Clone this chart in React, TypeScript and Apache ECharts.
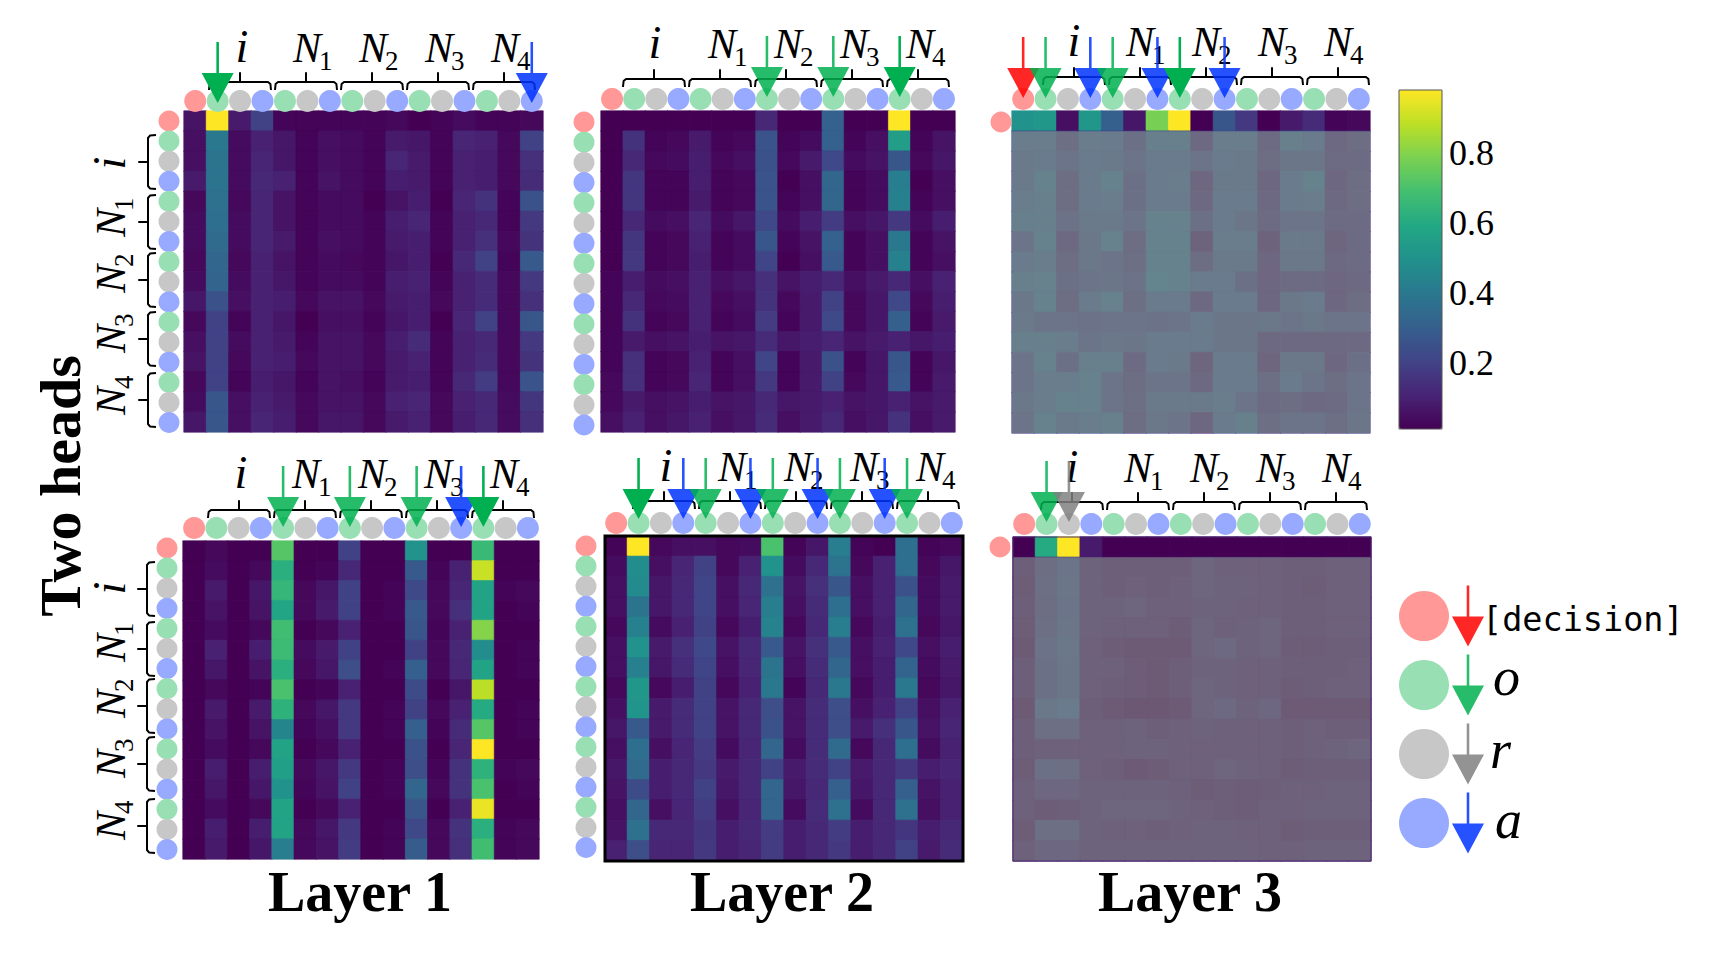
import React, { useEffect, useRef } from "react";
import * as echarts from "echarts";

// ---------- data ----------
const tokens = ["d", "o", "r", "a", "o", "r", "a", "o", "r", "a", "o", "r", "a", "o", "r", "a"];
const groupLabels = ["i", "N1", "N2", "N3", "N4"];
const layerTitles = ["Layer 1", "Layer 2", "Layer 3"];
const sideTitle = "Two heads";
const colorbarTicks = [0.2, 0.4, 0.6, 0.8];
const legendKinds = ["d", "o", "r", "a"];
const legendTexts = ["[decision]", "o", "r", "a"];

const layer1Head1 = [
  [.06,.98,.08,.2,.02,.02,.02,.02,.02,.03,.01,.02,.04,.02,.02,.03],
  [.05,.4,.04,.1,.07,.02,.05,.04,.02,.08,.07,.02,.11,.1,.03,.2],
  [.05,.38,.04,.11,.07,.02,.05,.04,.02,.11,.08,.02,.1,.09,.03,.14],
  [.08,.38,.04,.12,.1,.02,.06,.04,.02,.09,.08,.02,.1,.09,.03,.13],
  [.03,.37,.03,.11,.06,.02,.04,.04,.01,.06,.09,.01,.11,.15,.02,.25],
  [.04,.36,.04,.11,.06,.02,.04,.04,.02,.09,.11,.02,.1,.12,.02,.17],
  [.04,.35,.04,.11,.08,.02,.05,.04,.02,.08,.09,.02,.1,.14,.03,.15],
  [.03,.33,.03,.1,.06,.02,.04,.03,.02,.07,.09,.01,.12,.2,.02,.28],
  [.04,.32,.04,.1,.07,.02,.04,.04,.02,.09,.1,.02,.1,.13,.03,.17],
  [.07,.25,.05,.1,.09,.03,.06,.06,.03,.08,.09,.03,.1,.13,.03,.14],
  [.03,.2,.02,.1,.07,.01,.05,.05,.02,.07,.09,.01,.11,.2,.03,.27],
  [.05,.2,.04,.1,.08,.02,.06,.06,.03,.09,.13,.02,.1,.12,.03,.17],
  [.06,.2,.03,.1,.09,.03,.06,.06,.03,.08,.1,.02,.1,.13,.03,.15],
  [.03,.2,.02,.09,.07,.02,.06,.05,.02,.08,.09,.02,.12,.18,.03,.26],
  [.04,.27,.05,.1,.08,.03,.06,.06,.03,.1,.11,.03,.1,.12,.04,.16],
  [.07,.27,.05,.11,.09,.03,.07,.07,.03,.08,.1,.03,.09,.12,.04,.14],
];
const layer2Head1 = [
  [.01,.01,.01,.01,.01,.01,.01,.12,.01,.01,.31,.01,.01,.98,.01,.01],
  [.01,.15,.02,.03,.08,.02,.03,.26,.02,.04,.31,.02,.05,.55,.02,.06],
  [.01,.12,.03,.04,.09,.03,.05,.25,.03,.08,.22,.04,.06,.27,.03,.07],
  [.01,.16,.02,.02,.09,.02,.03,.26,.01,.05,.33,.02,.04,.42,.01,.05],
  [.01,.16,.02,.02,.08,.02,.03,.26,.02,.05,.33,.02,.04,.43,.02,.05],
  [.01,.12,.04,.05,.11,.04,.07,.22,.04,.09,.18,.05,.07,.17,.04,.09],
  [.01,.16,.02,.03,.1,.02,.04,.27,.02,.06,.31,.02,.05,.4,.02,.06],
  [.01,.17,.02,.03,.09,.02,.04,.21,.01,.05,.28,.02,.05,.43,.02,.05],
  [.02,.09,.04,.05,.1,.05,.07,.14,.06,.09,.12,.05,.08,.12,.05,.1],
  [.02,.12,.03,.04,.1,.03,.05,.15,.03,.08,.2,.03,.07,.22,.03,.09],
  [.02,.15,.02,.03,.1,.02,.04,.18,.02,.08,.22,.03,.07,.3,.02,.08],
  [.02,.08,.05,.06,.09,.06,.07,.13,.07,.09,.11,.06,.08,.1,.07,.09],
  [.02,.14,.02,.03,.1,.02,.05,.21,.02,.08,.25,.02,.07,.27,.02,.07],
  [.03,.14,.02,.03,.11,.02,.05,.17,.02,.08,.2,.03,.07,.28,.02,.08],
  [.03,.08,.05,.06,.09,.06,.07,.12,.07,.08,.1,.06,.07,.1,.06,.08],
  [.05,.1,.05,.07,.1,.05,.07,.13,.05,.08,.12,.05,.07,.15,.05,.08],
];
const layer3Head1 = [
  [.5,.52,.05,.52,.3,.07,.78,.98,.01,.27,.17,.01,.08,.13,.02,.03],
  [.23,.23,.15,.23,.22,.16,.24,.24,.12,.23,.23,.13,.24,.22,.12,.14],
  [.21,.22,.18,.22,.21,.18,.22,.22,.18,.22,.21,.14,.19,.19,.13,.13],
  [.21,.26,.14,.22,.26,.16,.22,.23,.11,.21,.21,.11,.22,.26,.11,.14],
  [.23,.24,.14,.22,.23,.16,.22,.22,.12,.22,.22,.12,.22,.23,.12,.14],
  [.24,.24,.17,.21,.21,.18,.26,.25,.16,.22,.19,.13,.18,.18,.13,.13],
  [.18,.26,.12,.2,.25,.14,.26,.26,.09,.23,.23,.09,.21,.21,.1,.13],
  [.22,.23,.14,.2,.18,.15,.26,.26,.14,.21,.21,.11,.2,.2,.12,.13],
  [.24,.25,.16,.18,.19,.17,.28,.26,.22,.22,.16,.11,.13,.13,.11,.12],
  [.2,.26,.14,.22,.25,.15,.22,.22,.12,.22,.22,.11,.2,.22,.11,.14],
  [.21,.18,.18,.17,.18,.18,.17,.18,.22,.19,.19,.2,.18,.2,.18,.18],
  [.24,.24,.23,.18,.2,.19,.22,.22,.22,.19,.19,.12,.12,.12,.12,.12],
  [.18,.25,.16,.24,.24,.13,.22,.21,.1,.22,.22,.1,.2,.2,.11,.16],
  [.18,.23,.23,.25,.18,.14,.18,.18,.12,.22,.22,.15,.22,.18,.14,.18],
  [.2,.23,.26,.25,.18,.15,.21,.21,.21,.23,.18,.13,.14,.12,.13,.18],
  [.18,.25,.21,.23,.24,.14,.2,.18,.11,.22,.24,.15,.18,.18,.15,.19],
];
const layer1Head2 = [
  [.01,.03,.01,.01,.72,.01,.01,.2,.01,.01,.5,.01,.01,.66,.01,.01],
  [.01,.04,.01,.03,.62,.01,.02,.12,.01,.01,.28,.02,.1,.9,.01,.01],
  [.01,.08,.01,.07,.65,.03,.07,.2,.01,.02,.22,.03,.11,.57,.02,.03],
  [.01,.06,.01,.06,.58,.03,.08,.2,.01,.02,.28,.03,.14,.57,.01,.02],
  [.01,.04,.01,.03,.68,.01,.03,.1,.01,.01,.27,.02,.1,.8,.01,.01],
  [.01,.1,.01,.09,.67,.04,.08,.2,.01,.01,.2,.03,.12,.48,.01,.02],
  [.01,.07,.01,.06,.62,.03,.07,.24,.01,.02,.3,.03,.11,.57,.01,.02],
  [.01,.03,.01,.02,.7,.01,.02,.1,.01,.01,.23,.01,.07,.88,.01,.01],
  [.01,.08,.01,.08,.63,.03,.07,.17,.01,.02,.2,.03,.1,.6,.01,.02],
  [.01,.06,.01,.06,.45,.02,.05,.17,.01,.02,.3,.02,.13,.72,.01,.02],
  [.01,.04,.01,.03,.57,.01,.03,.1,.01,.01,.25,.01,.11,.98,.01,.01],
  [.01,.09,.01,.09,.56,.03,.07,.17,.01,.02,.24,.02,.15,.63,.02,.03],
  [.01,.07,.01,.07,.5,.02,.06,.2,.01,.02,.33,.03,.15,.7,.01,.02],
  [.01,.04,.01,.03,.57,.01,.03,.1,.01,.01,.27,.01,.1,.95,.01,.01],
  [.01,.09,.01,.09,.57,.03,.07,.17,.01,.02,.22,.03,.15,.62,.02,.03],
  [.01,.08,.01,.07,.42,.03,.06,.18,.01,.02,.29,.03,.14,.68,.02,.03],
];
const layer2Head2 = [
  [.02,.98,.03,.05,.05,.03,.04,.7,.02,.07,.42,.02,.01,.36,.02,.03],
  [.04,.48,.05,.11,.2,.03,.1,.5,.04,.12,.38,.03,.1,.36,.03,.07],
  [.05,.47,.07,.12,.21,.05,.12,.37,.06,.14,.27,.05,.1,.25,.04,.08],
  [.05,.38,.07,.12,.21,.05,.11,.42,.05,.13,.36,.05,.1,.33,.04,.08],
  [.03,.43,.04,.1,.2,.03,.09,.44,.03,.12,.42,.03,.09,.37,.03,.07],
  [.05,.5,.08,.14,.22,.06,.12,.28,.06,.14,.28,.05,.1,.22,.05,.09],
  [.05,.43,.07,.13,.21,.05,.11,.38,.05,.13,.33,.05,.09,.32,.04,.08],
  [.03,.52,.03,.09,.2,.03,.1,.4,.02,.12,.4,.03,.09,.4,.03,.07],
  [.05,.51,.08,.13,.2,.06,.12,.24,.06,.13,.24,.05,.1,.2,.05,.1],
  [.07,.28,.08,.13,.2,.06,.12,.25,.06,.13,.24,.08,.14,.27,.06,.11],
  [.05,.36,.05,.11,.18,.04,.11,.33,.04,.13,.35,.03,.12,.36,.04,.1],
  [.07,.35,.09,.12,.17,.08,.12,.2,.08,.13,.2,.08,.12,.17,.09,.11],
  [.06,.23,.09,.12,.2,.07,.12,.33,.07,.12,.3,.07,.12,.3,.06,.1],
  [.05,.33,.05,.11,.18,.05,.11,.33,.04,.13,.37,.04,.12,.37,.05,.1],
  [.06,.37,.12,.12,.16,.09,.12,.18,.09,.12,.18,.09,.12,.16,.09,.12],
  [.1,.24,.11,.11,.17,.09,.11,.18,.09,.12,.17,.09,.12,.2,.08,.13],
];
const layer3Head2 = [
  [.01,.6,.98,.08,.01,.01,.01,.01,.01,.01,.01,.01,.01,.01,.01,.01],
  [.07,.14,.18,.09,.07,.07,.07,.07,.1,.08,.08,.08,.07,.07,.08,.08],
  [.06,.15,.19,.09,.07,.08,.07,.08,.1,.09,.09,.08,.07,.06,.08,.08],
  [.07,.14,.18,.09,.09,.1,.08,.08,.09,.09,.08,.08,.07,.07,.08,.08],
  [.06,.15,.19,.09,.08,.08,.08,.06,.1,.08,.09,.1,.07,.07,.08,.08],
  [.05,.17,.2,.08,.06,.05,.05,.05,.1,.12,.09,.1,.06,.06,.07,.07],
  [.07,.16,.19,.08,.08,.06,.05,.07,.09,.09,.08,.08,.07,.07,.07,.08],
  [.07,.16,.19,.08,.07,.06,.05,.07,.1,.09,.08,.08,.06,.07,.08,.08],
  [.05,.2,.22,.07,.05,.04,.04,.05,.1,.12,.09,.11,.05,.05,.05,.05],
  [.07,.15,.15,.08,.08,.09,.07,.08,.09,.08,.08,.08,.07,.08,.07,.07],
  [.07,.08,.08,.08,.08,.09,.09,.08,.08,.08,.08,.08,.07,.08,.09,.1],
  [.06,.16,.15,.08,.07,.05,.06,.08,.08,.1,.09,.08,.06,.07,.07,.07],
  [.08,.11,.11,.09,.09,.09,.09,.08,.06,.07,.06,.07,.08,.08,.09,.09],
  [.08,.06,.07,.09,.1,.1,.1,.09,.08,.07,.06,.08,.08,.09,.09,.09],
  [.06,.15,.15,.09,.08,.08,.07,.08,.09,.09,.08,.08,.06,.07,.07,.07],
  [.08,.11,.11,.09,.09,.09,.09,.09,.09,.09,.09,.08,.08,.09,.09,.09],
];

const arrowsLayer1Head1 = [[1, "o"], [15, "a"]];
const arrowsLayer2Head1 = [[7, "o"], [10, "o"], [13, "o"]];
const arrowsLayer3Head1 = [[0, "d"], [1, "o"], [3, "a"], [4, "o"], [6, "a"], [7, "o"], [9, "a"]];
const arrowsLayer1Head2 = [[4, "o"], [7, "o"], [10, "o"], [12, "a"], [13, "o"]];
const arrowsLayer2Head2 = [[1, "o"], [3, "a"], [4, "o"], [6, "a"], [7, "o"], [9, "a"], [10, "o"], [12, "a"], [13, "o"]];
const arrowsLayer3Head2 = [[1, "o"], [2, "r"]];

// ---------- styles and layout ----------
const viridis = ["#440154", "#482475", "#414487", "#355f8d", "#2a788e", "#21918c", "#22a884", "#44bf70", "#7ad151", "#bddf26", "#fde725"];
const circleColors: any = { d: "#FF9896", o: "#98DFB4", r: "#C7C7C7", a: "#98AAFF" };
const arrowColors: any = { d: "#FF0000", o: "#00B050", r: "#808080", a: "#0033FF" };
const arrowSymbol = "path://M13.8 0H16.2V31H30L15 61L0 31H13.8Z";
const VMIN = 0.011;
const VMAX = 0.98;
const serif = "Liberation Serif";

const panels: any[] = [
  { data: layer1Head1, arrows: arrowsLayer1Head1, strong: 0, x: 184, y: 111, w: 359, h: 321, topY: 101, tipOff: -28.5, leftX: 169, leftY: 121, leftStep: 20.1, leftAll: true, braceX: 209, braceY: 82, labelI: 242, labelN: 293, labelBase: 62, sideBrace: [135, 195, 253, 312, 373], sideN: [163, 237, 293, 353, 415] },
  { data: layer2Head1, arrows: arrowsLayer2Head1, strong: 2, x: 601, y: 111, w: 354, h: 321, topY: 99, tipOff: -32.5, leftX: 584, leftY: 122, leftStep: 20.2, leftAll: true, braceX: 623, braceY: 79, labelI: 655, labelN: 708, labelBase: 58 },
  { data: layer3Head1, arrows: arrowsLayer3Head1, strong: 5, x: 1012, y: 111, w: 358, h: 322, topY: 99, tipOff: -31.5, leftX: 1001, leftY: 122, leftStep: 20, leftAll: false, braceX: 1043, braceY: 77, labelI: 1074, labelN: 1126, labelBase: 56, veil: true },
  { data: layer1Head2, arrows: arrowsLayer1Head2, strong: 4, x: 183, y: 541, w: 356, h: 318, topY: 528, tipOff: -31.5, leftX: 167, leftY: 548, leftStep: 20.1, leftAll: true, braceX: 208, braceY: 510, labelI: 241, labelN: 292, labelBase: 488, sideBrace: [562, 622, 679, 737, 799], sideN: [588, 662, 718, 778, 840] },
  { data: layer2Head2, arrows: arrowsLayer2Head2, strong: 0, x: 605, y: 536, w: 358, h: 325, topY: 523, tipOff: -34.5, leftX: 586, leftY: 546, leftStep: 20.1, leftAll: true, braceX: 633, braceY: 501, labelI: 666, labelN: 718, labelBase: 481, frame: { color: "#000", width: 3 } },
  { data: layer3Head2, arrows: arrowsLayer3Head2, strong: -1, x: 1013, y: 537, w: 358, h: 324, topY: 524, tipOff: -32.5, leftX: 1000, leftY: 547, leftStep: 20, leftAll: false, braceX: 1041, braceY: 502, labelI: 1072, labelN: 1124, labelBase: 482, veil: true, frame: { color: "#4a2a72", width: 1 } },
];

function text(x: number, base: number, str: string, size: number, extra: any = {}) {
  const { rotated, ...style } = extra;
  const central = 0.337 * size;
  return {
    type: "text",
    z: 1,
    x: rotated ? base - central : x,
    y: rotated ? x : base - central,
    rotation: rotated ? Math.PI / 2 : 0,
    style: { text: str, fontFamily: serif, fontSize: size, fill: "#000", align: "left", verticalAlign: "middle", ...style },
  };
}

function groupLabel(label: string, start: number, base: number, rotated = false) {
  if (label === "i") return [text(start, base, "i", 46, { fontStyle: "italic", align: "center", rotated })];
  const along = rotated ? start - 26 : start + 26;
  return [
    text(start, base, "N", 42, { fontStyle: "italic", rotated }),
    text(along, base + 8, label.slice(1), 27, { rotated }),
  ];
}

function brace(x0: number, y: number, len: number, rotated = false) {
  const a = 8;
  const shape = [[0, a], [0.6, 2], [3, 0], [len / 2, 0], [len / 2, -9], [len / 2, 0], [len - 3, 0], [len - 0.6, 2], [len, a]];
  const points = rotated ? shape.map(([u, v]) => [y + v, x0 + u]) : shape.map(([u, v]) => [x0 + u, y + v]);
  return { type: "polyline", z: 1, shape: { points }, style: { stroke: "#000", lineWidth: 2, fill: "none", lineJoin: "round" } };
}

function cellColor(v: number) {
  const t = Math.min(1, Math.max(0, (v - VMIN) / (VMAX - VMIN)));
  return echarts.color.lerp(t, viridis) as string;
}

function buildOption() {
  const grids: any[] = [];
  const xAxes: any[] = [];
  const yAxes: any[] = [];
  const series: any[] = [];
  const graphics: any[] = [];
  const idx = Array.from({ length: 16 }, (_, i) => String(i));

  const addGrid = (g: any, xData: string[], yData: string[]) => {
    const i = grids.length;
    grids.push({ ...g, containLabel: false });
    xAxes.push({ type: "category", gridIndex: i, data: xData, show: false, boundaryGap: true });
    yAxes.push({ type: "category", gridIndex: i, data: yData, show: false, inverse: true, boundaryGap: true });
    return i;
  };

  const heatIndexes: number[] = [];
  panels.forEach((p) => {
    const gi = addGrid({ left: p.x, top: p.y, width: p.w, height: p.h }, idx, idx);
    heatIndexes.push(series.length);
    series.push({
      type: "heatmap",
      xAxisIndex: gi,
      yAxisIndex: gi,
      z: 2,
      data: p.data.flatMap((row: number[], r: number) =>
        row.map((v, c) => ({
          value: [c, r, v],
          itemStyle: { borderColor: cellColor(v), borderWidth: 0.6 },
        }))
      ),
      emphasis: { disabled: true },
    });
    if (p.frame) {
      graphics.push({
        type: "rect",
        z: 6,
        shape: { x: p.x, y: p.y, width: p.w, height: p.h },
        style: { fill: "none", stroke: p.frame.color, lineWidth: p.frame.width },
      });
    }
  });

  panels.forEach((p) => {
    const topGrid = addGrid({ left: p.x, top: p.topY - 12, width: p.w, height: 24 }, idx, ["0"]);
    series.push({
      type: "scatter",
      xAxisIndex: topGrid,
      yAxisIndex: topGrid,
      clip: false,
      z: 3,
      symbolSize: 22,
      silent: true,
      data: tokens.map((k, i) => ({ value: [i, 0], itemStyle: { color: circleColors[k], opacity: 1 } })),
    });
    series.push({
      type: "scatter",
      xAxisIndex: topGrid,
      yAxisIndex: topGrid,
      clip: false,
      z: 10,
      symbol: arrowSymbol,
      symbolSize: [32, 61],
      symbolOffset: [0, p.tipOff],
      silent: true,
      data: p.arrows.map(([c, k]: any, i: number) => ({
        value: [c, 0],
        itemStyle: { color: arrowColors[k], opacity: i === p.strong ? 1 : 0.85 },
      })),
    });
    const leftGrid = addGrid(
      { left: p.leftX - 12, top: p.leftY - p.leftStep / 2, width: 24, height: p.leftStep * 16 },
      ["0"],
      idx
    );
    const leftTokens = p.leftAll ? tokens : tokens.slice(0, 1);
    series.push({
      type: "scatter",
      xAxisIndex: leftGrid,
      yAxisIndex: leftGrid,
      clip: false,
      z: 3,
      symbolSize: 21,
      silent: true,
      data: leftTokens.map((k: string, i: number) => ({ value: [0, i], itemStyle: { color: circleColors[k], opacity: 1 } })),
    });

    groupLabels.forEach((lab, i) => {
      graphics.push(brace(p.braceX + i * 66, p.braceY, 62));
      const start = lab === "i" ? p.labelI : p.labelN + (i - 1) * 66;
      graphics.push(...groupLabel(lab, start, p.labelBase));
      if (p.sideBrace) {
        graphics.push(brace(p.sideBrace[i], p.x - 36, 54, true));
        graphics.push(...groupLabel(lab, p.sideN[i], 125, true));
      }
    });
    if (p.veil) {
      const rh = p.h / 16;
      graphics.push({
        type: "rect",
        z: 5,
        shape: { x: p.x, y: p.y + rh, width: p.w, height: p.h - rh },
        style: { fill: "rgba(165,195,145,0.42)" },
      });
    }
  });

  // colour bar ticks
  const barIndex = grids.length;
  grids.push({ left: 1399, top: 90, width: 43, height: 339 });
  xAxes.push({ type: "value", gridIndex: barIndex, show: false, min: 0, max: 1 });
  yAxes.push({
    type: "value",
    gridIndex: barIndex,
    position: "right",
    min: VMIN,
    max: VMAX,
    splitLine: { show: false },
    axisLine: { show: false },
    axisTick: { show: true, length: 3, customValues: colorbarTicks, lineStyle: { color: "#555" } },
    axisLabel: {
      show: true,
      customValues: colorbarTicks,
      margin: 7,
      formatter: (v: number) => v.toFixed(1),
      fontFamily: serif,
      fontSize: 36,
      color: "#000",
    },
  });
  series.push({ type: "scatter", xAxisIndex: barIndex, yAxisIndex: barIndex, data: [], silent: true });
  graphics.push({
    type: "rect",
    z: 20,
    shape: { x: 1399, y: 90, width: 43, height: 339 },
    style: { fill: "none", stroke: "#555", lineWidth: 1 },
  });

  // legend
  const legCircle = addGrid({ left: 1402, top: 581.5, width: 88, height: 276 }, ["c", "a"], legendKinds);
  series.push({
    type: "scatter",
    xAxisIndex: legCircle,
    yAxisIndex: legCircle,
    clip: false,
    z: 3,
    symbolSize: 50,
    silent: true,
    data: legendKinds.map((k, i) => ({ value: [0, i], itemStyle: { color: circleColors[k], opacity: 1 } })),
  });
  series.push({
    type: "scatter",
    xAxisIndex: legCircle,
    yAxisIndex: legCircle,
    clip: false,
    z: 3,
    symbol: arrowSymbol,
    symbolSize: [32, 61],
    silent: true,
    data: legendKinds.map((k, i) => ({ value: [1, i], itemStyle: { color: arrowColors[k], opacity: 0.85 } })),
  });
  graphics.push({
    type: "text",
    x: 1482,
    y: 619,
    style: { text: legendTexts[0], fontFamily: "DejaVu Sans Mono", fontSize: 33.5, fill: "#000", align: "left", verticalAlign: "middle" },
  });
  graphics.push(text(1493, 695, legendTexts[1], 54, { fontStyle: "italic" }));
  graphics.push(text(1490, 768, legendTexts[2], 54, { fontStyle: "italic" }));
  graphics.push(text(1495, 838, legendTexts[3], 54, { fontStyle: "italic" }));

  // titles
  [360, 782, 1190].forEach((cx, i) => {
    graphics.push(text(cx, 911, layerTitles[i], 56, { fontWeight: "bold", align: "center" }));
  });
  graphics.push(text(486, 80, sideTitle, 58, { fontWeight: "bold", align: "center", rotated: true }));

  return {
    animation: false,
    backgroundColor: "#fff",
    grid: grids,
    xAxis: xAxes,
    yAxis: yAxes,
    visualMap: {
      type: "continuous",
      seriesIndex: heatIndexes,
      dimension: 2,
      min: VMIN,
      max: VMAX,
      calculable: false,
      hoverLink: false,
      show: true,
      left: 1399,
      top: 90,
      padding: 0,
      itemWidth: 43,
      itemHeight: 339,
      orient: "vertical",
      inRange: { color: viridis },
      textStyle: { color: "transparent" },
    },
    graphic: graphics,
    series,
  };
}

export default function App() {
  const ref = useRef<HTMLDivElement>(null);
  useEffect(() => {
    document.body.style.margin = "0";
    const chart = echarts.init(ref.current!, undefined, { renderer: "svg" });
    chart.setOption(buildOption() as any);
    return () => chart.dispose();
  }, []);
  return <div ref={ref} style={{ width: 1727, height: 964 }} />;
}
